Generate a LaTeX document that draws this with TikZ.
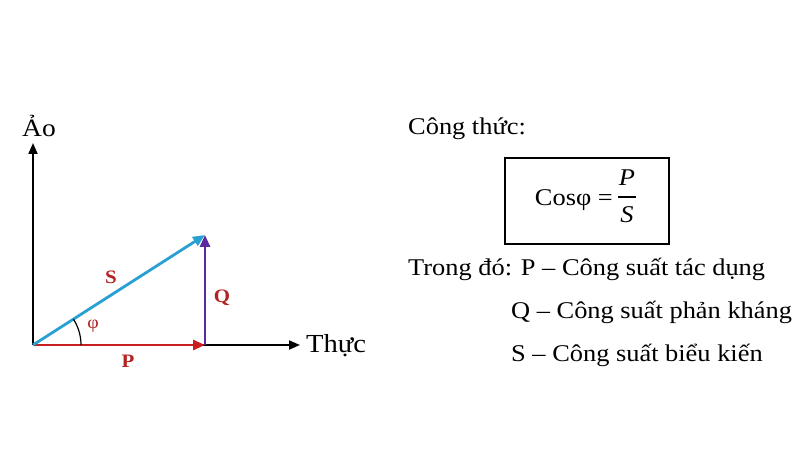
\documentclass[tikz,border=0pt]{standalone}
\usepackage{fontspec}
\setmainfont{Liberation Serif}[FakeStretch=1.1]
\usetikzlibrary{arrows.meta,calc}
\definecolor{pred}{RGB}{200,30,30}
\definecolor{scyan}{RGB}{40,160,210}
\definecolor{qpurp}{RGB}{90,40,160}
\definecolor{lblred}{RGB}{180,35,35}
\tikzset{
  axis/.style={line width=2pt,black,-{Triangle[length=11pt,width=9pt]}},
  vec/.style={line width=2.8pt,-{Triangle[length=12pt,width=10pt]}},
  vlabel/.style={text=lblred,font=\fontsize{19}{20}\selectfont\bfseries,inner sep=0pt},
  txt/.style={font=\fontsize{24}{28}\selectfont,inner sep=0pt,anchor=west},
  ftxt/.style={font=\fontsize{24}{28}\selectfont,inner sep=0pt}
}
\begin{document}
\begin{tikzpicture}[x=1pt,y=-1pt]
\useasboundingbox[fill=white] (0,0) rectangle (800,462);
\coordinate (O) at (33,345);
\coordinate (Ytip) at (33,143);
\coordinate (Xtip) at (300,345);
\coordinate (Pend) at (205,345);
\coordinate (Qend) at (205,235);
\draw[axis] (O) -- (Ytip);
\draw[axis] (O) -- (Xtip);
\node[txt,font=\fontsize{25}{28}\selectfont] (ao) at (22,126) {Ảo};
\node[txt,font=\fontsize{26}{28}\selectfont] (thuc) at (306,346) {Thực};
\draw[vec,qpurp] (Pend) -- (Qend);
\draw[vec,pred] (O) -- (Pend);
\draw[vec,scyan] (O) -- (Qend);
\draw[black,line width=1.2pt] ($(O)+(48,0)$) arc[start angle=0,end angle=-32.6,radius=48];
\node[vlabel] (S) at (111,277) {S};
\node[vlabel] (Q) at (222,298) {Q};
\node[vlabel] (P) at (128,361) {P};
\node[text=lblred,font=\fontsize{18}{20}\selectfont,inner sep=0pt] (phi) at (93,326) {φ};
\node[txt] (ct) at (408,129) {Công thức:};
\node[draw,line width=1.5pt,minimum width=164pt,minimum height=86pt,inner sep=0pt] (box) at (587,201) {};
\node[ftxt,anchor=east] (cos) at (613,200) {Cosφ =};
\coordinate (barL) at (618,197);
\coordinate (barR) at (636,197);
\draw[line width=1.1pt] (barL) -- (barR);
\node[ftxt] (fp) at (627,178) {\textit{P}};
\node[ftxt] (fs) at (627,215) {\textit{S}};
\node[txt] (l1) at (408,269) {Trong đó: P – Công suất tác dụng};
\node[txt] (l2) at (511,312) {Q – Công suất phản kháng};
\node[txt] (l3) at (511,355) {S – Công suất biểu kiến};
\end{tikzpicture}
\end{document}
